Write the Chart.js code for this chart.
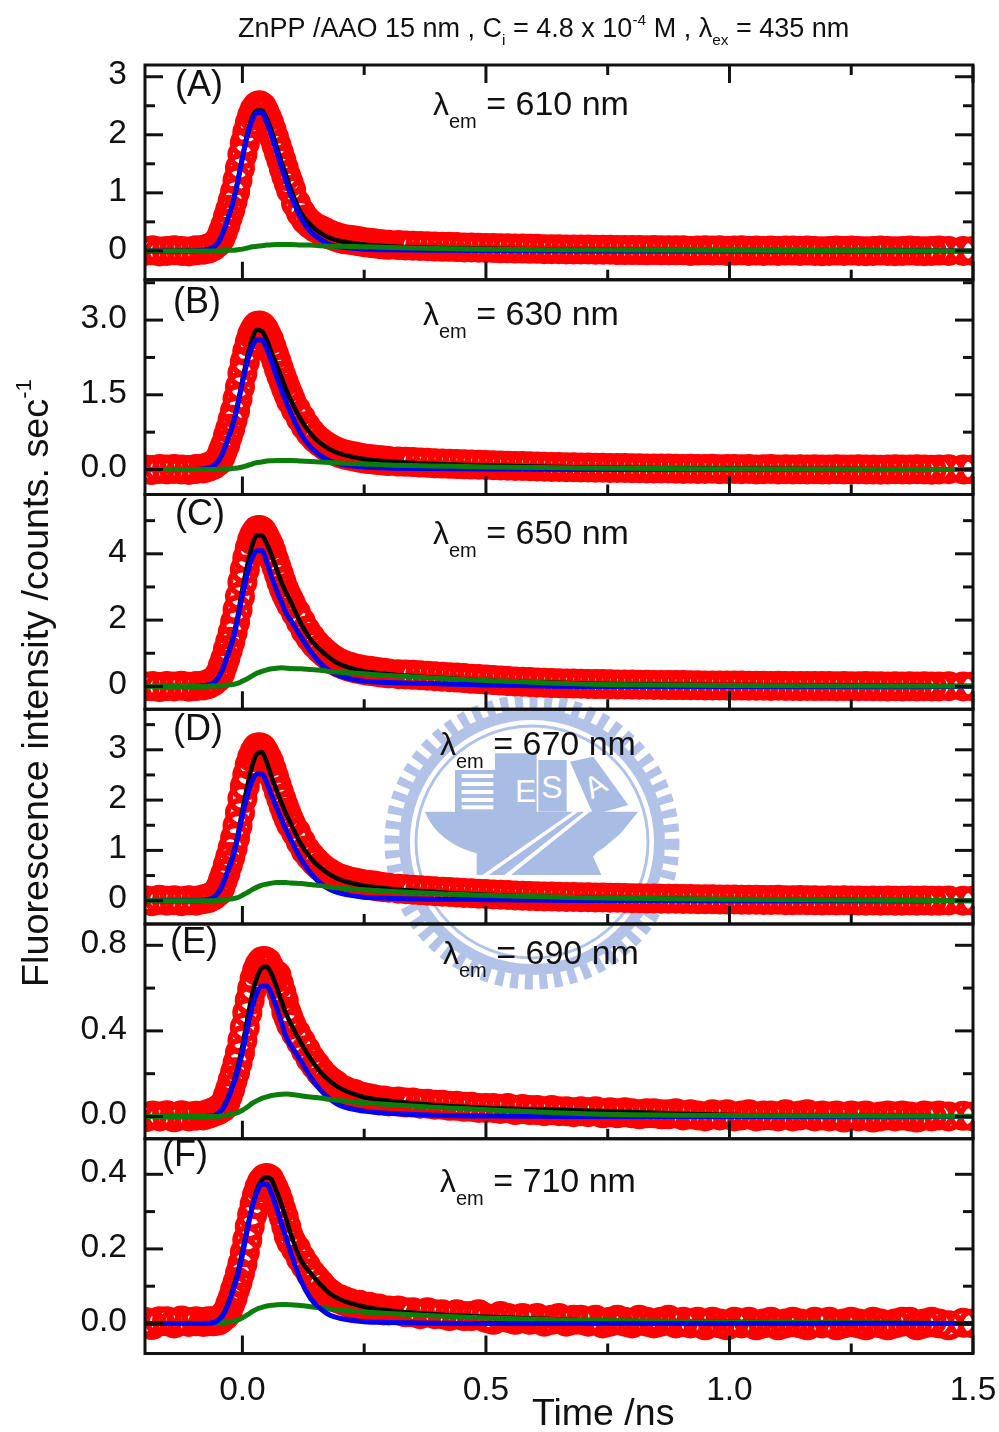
<!DOCTYPE html>
<html>
<head>
<meta charset="utf-8">
<title>ZnPP/AAO fluorescence decay</title>
<script src="https://cdn.jsdelivr.net/npm/chart.js@4"></script>
<style>
  html, body { margin: 0; padding: 0; background: #fff; }
  #seal, #chart { position: absolute; left: 0; top: 0; }
</style>
</head>
<body>
<svg id="seal" width="999" height="1432">
  <g fill="none" stroke="#b2c3e7">
    <circle cx="532" cy="842" r="140" stroke-width="15" stroke-dasharray="8 6.6"/>
    <circle cx="532" cy="842" r="127.5" stroke-width="11"/>
    <circle cx="532" cy="842" r="116" stroke-width="3"/>
  </g>
  <g transform="translate(380 690) scale(0.3333)" fill="#a9bce4">
    <path d="M135 365 L775 365 L722 430 L640 500 L665 555 L290 555 L290 490 C220 470 160 430 135 365 Z"/>
    <rect x="225" y="240" width="125" height="130"/>
    <rect x="345" y="190" width="125" height="180"/>
    <rect x="475" y="210" width="85" height="155"/>
    <path d="M570 215 L640 200 L745 345 L640 375 Z"/>
    <g fill="#fff">
      <rect x="245" y="252" width="95" height="12"/>
      <rect x="245" y="276" width="95" height="12"/>
      <rect x="245" y="300" width="95" height="12"/>
      <rect x="245" y="324" width="95" height="12"/>
      <rect x="245" y="346" width="95" height="12"/>
      <path d="M300 560 L612 342 L636 360 L392 556 L372 556 L612 366 L606 358 L325 556 Z"/>
      <path d="M640 500 C660 470 700 465 720 470 C725 510 715 540 665 555 Z"/>
      <text x="405" y="335" font-family="Liberation Sans" font-size="96">E</text>
      <text x="484" y="325" font-family="Liberation Sans" font-size="96">S</text>
      <text x="615" y="318" font-family="Liberation Sans" font-size="90" transform="rotate(-30 645 285)">A</text>
    </g>
  </g>
</svg>
<canvas id="chart" width="999" height="1432"></canvas>
<script>
// measured times (ns) for the red circles
const pointTime = [
  -0.2, -0.185, -0.17, -0.155, -0.14, -0.125, -0.11, -0.095, -0.08, -0.07, -0.06,
  -0.05, -0.045, -0.04, -0.035, -0.03, -0.025, -0.02, -0.015, -0.01, -0.005,
  0, 0.005, 0.01, 0.015, 0.02, 0.025, 0.03, 0.035, 0.04, 0.045,
  0.05, 0.055, 0.06, 0.065, 0.07, 0.075, 0.08, 0.085, 0.09, 0.095, 0.1,
  0.11, 0.12, 0.13, 0.14, 0.15, 0.16, 0.17, 0.18, 0.19, 0.2,
  0.21, 0.22, 0.23, 0.24, 0.25, 0.26, 0.27, 0.28, 0.29, 0.3,
  0.32, 0.335, 0.35, 0.365, 0.38, 0.395, 0.41, 0.425, 0.44, 0.455, 0.47, 0.485, 0.5,
  0.515, 0.53, 0.545, 0.56, 0.575, 0.59, 0.605, 0.62, 0.635, 0.65, 0.665, 0.68, 0.695,
  0.71, 0.725, 0.74, 0.755, 0.77, 0.785, 0.8, 0.815, 0.83, 0.845, 0.86, 0.875, 0.89,
  0.905, 0.92, 0.935, 0.95, 0.965, 0.98, 0.995, 1.01, 1.025, 1.04, 1.055, 1.07, 1.085,
  1.1, 1.115, 1.13, 1.145, 1.16, 1.175, 1.19, 1.205, 1.22, 1.235, 1.25, 1.265, 1.28,
  1.295, 1.31, 1.325, 1.34, 1.355, 1.37, 1.385, 1.4, 1.415, 1.43, 1.45, 1.48, 1.5
];

const pointsA = [
  0, .01, -.01, 0, .01, 0, -.01, .01, .02, .04, .08,
  .15, .22, .33, .44, .58, .71, .86, 1.02, 1.22, 1.43, 1.66, 1.86, 2.04, 2.2, 2.33, 2.43, 2.49, 2.51, 2.48, 2.4, 2.3, 2.2, 2.08, 1.95, 1.82, 1.69, 1.56, 1.42, 1.29, 1.17, 1.05,
  .82, .66, .54, .46, .4, .36, .32, .28, .25, .22, .2, .19, .18, .165, .15, .14, .13, .12, .11, .105,
  .1, .095, .09, .085, .08, .075, .07, .07, .065, .06, .06, .055, .05,
  .05, .045, .045, .04, .04, .035, .035, .03, .03, .03, .025, .025, .025,
  .025, .02, .02, .02, .015, .015, .015, .015, .01, .015, .01, .01, .01,
  .01, 0, .005, .01, .005, .01, 0, .005, .01, 0, .005, 0, .005,
  0, .005, .005, 0, .005, 0, -.005, 0, .005, 0, .005, 0, -.005,
  0, .005, 0, -.005, 0, .005, 0, -.005, 0, .005, 0, 0, 0
];
const pointsB = [
  0, -.01, .01, 0, .01, 0, -.01, .01, .02, .05, .09,
  .17, .25, .38, .5, .67, .82, 1, 1.18, 1.42, 1.66, 1.93, 2.16, 2.37, 2.56, 2.71, 2.81, 2.88, 2.89, 2.87, 2.8, 2.7, 2.6, 2.46, 2.31, 2.17, 2.02, 1.88, 1.75, 1.62, 1.5, 1.38,
  1.2, 1.03, .87, .74, .63, .55, .48, .42, .37, .33, .3, .28, .26, .24, .22, .21, .2, .19, .18, .17,
  .16, .155, .15, .14, .135, .125, .12, .115, .11, .105, .1, .095, .09,
  .085, .08, .075, .07, .07, .065, .06, .055, .05, .05, .045, .045, .04,
  .04, .035, .035, .03, .03, .03, .025, .025, .02, .02, .02, .02, .015,
  .01, .015, .01, .01, .015, .005, .01, .01, .005, .01, 0, .005, .01,
  0, .005, 0, .005, 0, .005, 0, 0, .005, 0, 0, .005, 0,
  0, -.005, 0, .005, 0, 0, .005, 0, -.005, 0, .005, 0, 0
];
const pointsC = [
  0, .01, -.02, .01, 0, .02, -.01, .01, .03, .07, .15,
  .28, .42, .63, .84, 1.1, 1.35, 1.63, 1.94, 2.31, 2.71, 3.15, 3.53, 3.87, 4.17, 4.42, 4.59, 4.7, 4.72, 4.68, 4.55, 4.4, 4.25, 4.05, 3.82, 3.6, 3.38, 3.16, 2.95, 2.78, 2.63, 2.48,
  2.22, 1.95, 1.68, 1.47, 1.28, 1.13, 1, .88, .78, .7, .64, .59, .55, .52, .49, .47, .45, .43, .41, .39,
  .37, .36, .35, .34, .325, .31, .295, .28, .265, .25, .23, .22, .205,
  .19, .175, .16, .15, .14, .13, .12, .11, .1, .095, .09, .085, .08,
  .075, .07, .07, .065, .06, .06, .055, .05, .05, .045, .045, .04, .04,
  .04, .035, .035, .03, .03, .03, .025, .025, .025, .02, .02, .02, .015,
  .02, .015, .015, .01, .015, .01, .01, .01, .005, .01, .005, .005, .01,
  .005, .005, 0, .005, 0, .005, 0, .005, 0, 0, .005, 0, 0
];
const pointsD = [
  .01, -.01, .02, 0, .01, -.01, .01, 0, .03, .05, .1,
  .18, .27, .41, .54, .71, .87, 1.05, 1.25, 1.49, 1.75, 2.03, 2.28, 2.5, 2.7, 2.85, 2.96, 3.04, 3.05, 3.03, 2.95, 2.85, 2.75, 2.61, 2.46, 2.31, 2.16, 2.02, 1.88, 1.75, 1.63, 1.52,
  1.36, 1.17, 1, .88, .77, .68, .6, .54, .48, .44, .41, .38, .36, .34, .32, .31, .3, .28, .27, .26,
  .24, .23, .22, .21, .2, .19, .18, .175, .165, .155, .15, .14, .135,
  .125, .12, .115, .105, .1, .095, .09, .085, .085, .08, .075, .075, .07,
  .07, .065, .065, .06, .06, .055, .05, .05, .045, .045, .04, .04, .04,
  .035, .035, .03, .03, .03, .025, .025, .025, .02, .02, .02, .015, .015,
  .02, .01, .01, .015, .01, .01, .005, .01, .005, .01, .005, .005, 0,
  .005, 0, .005, 0, 0, .005, 0, .005, 0, 0, .005, 0, 0
];
const pointsE = [
  -.004, .005, 0, .006, -.004, .006, 0, .004, .005, .012, .02,
  .03, .04, .044, .064, .097, .129, .169, .207, .251, .298, .356, .417, .485, .543, .596, .643, .68, .707, .724, .727, .721, .698, .672, .65, .66, .62, .58, .54, .49, .46, .43,
  .39, .35, .31, .27, .24, .21, .185, .165, .15, .13, .12, .11, .105, .095, .09, .085, .08, .075, .075, .07,
  .07, .065, .065, .06, .06, .055, .055, .05, .05, .045, .045, .04, .04,
  .04, .035, .04, .03, .035, .03, .03, .025, .03, .025, .025, .02, .025,
  .02, .025, .015, .02, .015, .02, .015, .01, .015, .015, .01, .01, .015,
  .005, .01, .005, 0, .01, .005, .01, 0, .005, .01, 0, .005, .005,
  0, .01, 0, .005, .01, 0, .005, 0, .005, -.005, .005, 0, .005,
  -.005, 0, .005, 0, .005, 0, -.005, .005, 0, .005, 0, .003, 0
];
const pointsF = [
  .004, -.004, .006, .006, 0, .008, .004, .006, .004, .006, .006,
  .008, .012, .018, .023, .034, .052, .069, .091, .111, .135, .16, .191, .224, .26, .291, .32, .345, .365, .379, .388, .39, .387, .374, .36, .345, .326, .305, .285, .26, .235, .22,
  .2, .175, .155, .135, .12, .105, .09, .08, .07, .065, .06, .055, .05, .05, .045, .045, .04, .04, .035, .035,
  .035, .03, .03, .025, .03, .025, .025, .02, .025, .02, .02, .025, .015,
  .01, .02, .015, .01, .015, .01, .015, .005, .01, .015, .005, .01, .01,
  .005, .01, 0, .005, .01, .005, 0, .01, .005, 0, .005, .01, 0,
  .005, 0, .005, -.005, .005, 0, -.005, .005, 0, .005, -.005, 0, .005,
  -.005, 0, .005, 0, -.005, .005, 0, .005, -.005, 0, .005, 0, -.005,
  .005, 0, -.005, 0, .005, .005, -.005, 0, .005, 0, -.005, .002, 0
];

// times for the three fit curves
const fitTime = [-0.2, -0.1, -0.08, -0.06, -0.05, -0.04, -0.03, -0.02, -0.01, 0, 0.01, 0.02, 0.03, 0.04, 0.05, 0.06, 0.07, 0.08, 0.09, 0.1, 0.12, 0.14, 0.16, 0.18, 0.2, 0.25, 0.3, 0.4, 0.5, 0.7, 1, 1.5];

const blackA = [0, 0, .01, .06, .14, .31, .56, .82, 1.19, 1.62, 2.02, 2.3, 2.42, 2.42, 2.28, 2.06, 1.8, 1.54, 1.29, 1.05, .66, .45, .31, .22, .17, .11, .08, .05, .035, .02, .01, 0];
const blackB = [0, 0, .01, .07, .16, .35, .62, .91, 1.31, 1.8, 2.26, 2.62, 2.8, 2.78, 2.6, 2.34, 2.1, 1.85, 1.6, 1.38, 1, .72, .53, .4, .32, .21, .16, .11, .08, .04, .015, 0];
const blackC = [0, 0, .02, .11, .26, .55, .98, 1.45, 2.1, 2.95, 3.65, 4.25, 4.55, 4.55, 4.3, 3.95, 3.55, 3.15, 2.82, 2.53, 1.9, 1.42, 1.1, .85, .67, .46, .37, .26, .18, .09, .04, .01];
const blackD = [0, 0, .01, .06, .16, .34, .61, .9, 1.29, 1.8, 2.27, 2.68, 2.92, 2.95, 2.75, 2.46, 2.2, 1.95, 1.72, 1.52, 1.13, .85, .66, .52, .42, .3, .24, .17, .12, .06, .025, 0];
const blackE = [0, 0, 0, .002, .015, .04, .087, .15, .228, .33, .454, .57, .65, .695, .7, .665, .607, .54, .478, .43, .345, .27, .208, .165, .133, .09, .074, .052, .04, .028, .007, .001];
const blackF = [0, 0, 0, .002, .009, .024, .052, .092, .136, .195, .258, .315, .36, .385, .392, .385, .355, .32, .28, .237, .17, .135, .105, .08, .065, .045, .035, .024, .018, .009, .004, 0];

const blueA = [0, 0, .01, .06, .14, .31, .55, .81, 1.17, 1.59, 1.98, 2.25, 2.38, 2.38, 2.21, 1.98, 1.71, 1.45, 1.19, .95, .57, .33, .2, .11, .07, .03, .02, .01, .005, 0, 0, 0];
const blueB = [0, 0, .01, .07, .16, .34, .6, .88, 1.27, 1.74, 2.16, 2.46, 2.6, 2.6, 2.42, 2.16, 1.87, 1.6, 1.35, 1.12, .72, .45, .28, .17, .11, .05, .03, .02, .01, 0, 0, 0];
const blueC = [0, 0, .02, .1, .25, .53, .94, 1.39, 2, 2.74, 3.39, 3.87, 4.09, 4.09, 3.75, 3.3, 2.9, 2.55, 2.2, 1.98, 1.5, 1.05, .7, .46, .32, .16, .12, .08, .04, 0, 0, 0];
const blueD = [0, 0, .01, .06, .15, .33, .58, .86, 1.23, 1.69, 2.09, 2.38, 2.52, 2.52, 2.34, 2.09, 1.85, 1.62, 1.4, 1.2, .83, .55, .35, .22, .15, .07, .05, .03, .02, .005, 0, 0];
const blueE = [0, 0, 0, .002, .015, .037, .08, .14, .21, .3, .41, .51, .58, .61, .61, .57, .51, .44, .37, .33, .26, .185, .124, .08, .052, .025, .015, .006, .002, 0, 0, 0];
const blueF = [0, 0, 0, .002, .009, .022, .048, .086, .127, .183, .25, .31, .352, .373, .373, .347, .31, .269, .228, .187, .115, .067, .04, .022, .014, .005, .003, .001, 0, 0, 0, 0];

const greenA = [0, 0, 0, 0, 0, .005, .01, .01, .02, .03, .05, .07, .08, .09, .1, .105, .11, .11, .11, .11, .1, .1, .09, .08, .08, .07, .06, .04, .03, .02, .01, 0];
const greenB = [0, 0, 0, 0, 0, .01, .01, .02, .03, .05, .08, .11, .14, .15, .17, .175, .18, .18, .18, .18, .17, .16, .15, .14, .13, .11, .09, .07, .05, .03, .01, 0];
const greenC = [0, 0, 0, .01, .01, .02, .04, .06, .09, .16, .23, .32, .4, .45, .5, .53, .55, .56, .55, .54, .53, .51, .49, .45, .43, .38, .33, .25, .18, .07, .03, .01];
const greenD = [0, 0, 0, 0, .01, .01, .03, .04, .06, .11, .16, .22, .27, .31, .33, .35, .36, .36, .36, .35, .34, .32, .3, .27, .25, .22, .19, .14, .11, .06, .03, 0];
const greenE = [0, 0, 0, 0, 0, .004, .007, .011, .018, .029, .044, .061, .074, .085, .092, .098, .102, .104, .105, .103, .097, .091, .086, .08, .075, .064, .056, .042, .032, .013, .005, .001];
const greenF = [0, 0, 0, 0, 0, .002, .004, .006, .009, .015, .023, .032, .039, .043, .047, .049, .05, .051, .051, .05, .048, .045, .042, .039, .036, .031, .027, .02, .015, .009, .004, 0];

// axis ticks
const xMajor = [0, 0.5, 1, 1.5];
const xMinor = [0.25, 0.75, 1.25];
const yMajorA = [0, 1, 2, 3], yMinorA = [0.5, 1.5, 2.5];
const yMajorB = [0, 1.5, 3], yMinorB = [0.75, 2.25, 3.75];
const yMajorC = [0, 2, 4], yMinorC = [1, 3, 5];
const yMajorD = [0, 1, 2, 3], yMinorD = [0.5, 1.5, 2.5, 3.5];
const yMajorE = [0, 0.4, 0.8], yMinorE = [0.2, 0.6];
const yMajorF = [0, 0.2, 0.4], yMinorF = [0.1, 0.3];

const panels = [
  { id: 'yA', min: -0.497, max: 3.202, major: yMajorA, minor: yMinorA, dec: 0, points: pointsA, black: blackA, blue: blueA, green: greenA },
  { id: 'yB', min: -0.502, max: 3.81, major: yMajorB, minor: yMinorB, dec: 1, points: pointsB, black: blackB, blue: blueB, green: greenB },
  { id: 'yC', min: -0.689, max: 5.789, major: yMajorC, minor: yMinorC, dec: 0, points: pointsC, black: blackC, blue: blueC, green: greenC },
  { id: 'yD', min: -0.463, max: 3.806, major: yMajorD, minor: yMinorD, dec: 0, points: pointsD, black: blackD, blue: blueD, green: greenD },
  { id: 'yE', min: -0.104, max: 0.8995, major: yMajorE, minor: yMinorE, dec: 1, points: pointsE, black: blackE, blue: blueE, green: greenE },
  { id: 'yF', min: -0.0804, max: 0.4953, major: yMajorF, minor: yMinorF, dec: 1, points: pointsF, black: blackF, blue: blueF, green: greenF, blueOnTop: true }
];

const FONT = '"Liberation Sans", Arial, sans-serif';

function pairUp(times, values) {
  return times.map((x, i) => ({ x, y: values[i] }));
}

const datasets = [];
panels.forEach(p => {
  const line = (values, color, order, width) => ({
    data: pairUp(fitTime, values), yAxisID: p.id, xAxisID: 'x', order,
    borderColor: color, borderWidth: width, pointRadius: 0,
    cubicInterpolationMode: 'monotone', clip: 0
  });
  datasets.push(line(p.green, '#0a7d0a', p.blueOnTop ? 2 : 1, 5));
  datasets.push(line(p.blue, '#0000f0', p.blueOnTop ? 1 : 2, 5));
  datasets.push(line(p.black, '#000000', 3, 4.5));
  datasets.push({
    data: pairUp(pointTime, p.points), yAxisID: p.id, xAxisID: 'x', order: 4,
    showLine: false, pointStyle: 'circle', pointRadius: 12.25, pointBorderWidth: 5.5,
    pointBorderColor: '#ff0000', pointBackgroundColor: 'rgba(0,0,0,0)', clip: 0
  });
});

const scales = {
  x: {
    type: 'linear', position: 'bottom', min: -0.2, max: 1.5,
    grid: { display: false, drawTicks: false }, border: { display: false },
    afterBuildTicks: axis => { axis.ticks = xMajor.map(value => ({ value })); },
    // the 1.5 label would otherwise push the plot in from the right
    afterFit: axis => { axis.height = 78.5; axis.paddingLeft = 0; axis.paddingRight = 0; },
    ticks: {
      autoSkip: false, maxRotation: 0, padding: 17, color: '#111',
      font: { family: FONT, size: 33.5 }, callback: v => v.toFixed(1)
    }
  }
};
// stacked y scales, first one in the list ends up at the bottom so go in reverse
panels.slice().reverse().forEach(p => {
  scales[p.id] = {
    type: 'linear', position: 'left', stack: 'panels', stackWeight: 1,
    min: p.min, max: p.max,
    grid: { display: false, drawTicks: false }, border: { display: false },
    afterBuildTicks: axis => { axis.ticks = p.major.map(value => ({ value })); },
    afterFit: axis => { axis.width = 145; },
    ticks: {
      autoSkip: false, maxRotation: 0, padding: 18, labelOffset: -1.5, color: '#111',
      font: { family: FONT, size: 33.5 }, callback: v => v.toFixed(p.dec)
    }
  };
});

// inward ticks and the box of every panel
const frames = {
  id: 'frames',
  afterDatasetsDraw(chart) {
    const { ctx } = chart;
    const x = chart.scales.x;
    ctx.save();
    ctx.strokeStyle = '#111';
    ctx.lineWidth = 3;
    const seg = (x1, y1, x2, y2) => {
      ctx.beginPath(); ctx.moveTo(x1, y1); ctx.lineTo(x2, y2); ctx.stroke();
    };
    panels.forEach((p, i) => {
      const y = chart.scales[p.id];
      ctx.strokeRect(x.left, y.top, x.right - x.left, y.bottom - y.top);
      const yTick = (v, len) => {
        const py = y.getPixelForValue(v);
        seg(x.left, py, x.left + len, py);
        seg(x.right, py, x.right - len, py);
      };
      p.major.forEach(v => yTick(v, 18));
      p.minor.forEach(v => yTick(v, 10));
      const xTick = (v, len) => {
        const px = x.getPixelForValue(v);
        seg(px, y.bottom, px, y.bottom - len);
        if (i === 0) seg(px, y.top, px, y.top + len);
      };
      xMajor.forEach(v => xTick(v, 18));
      xMinor.forEach(v => xTick(v, 10));
    });
    ctx.restore();
  }
};

// text with sub- and superscripts: each run is [text, size, rise]
function drawRuns(ctx, x, y, runs) {
  runs.forEach(([text, size, rise]) => {
    ctx.font = size + 'px ' + FONT;
    ctx.fillText(text, x, y - (rise || 0));
    x += ctx.measureText(text).width;
  });
}

const panelLabels = [['(A)', 175, 96], ['(B)', 173, 313], ['(C)', 175, 525], ['(D)', 173, 740], ['(E)', 170, 953], ['(F)', 162, 1166]];
const emission = [['610', 433, 115], ['630', 423, 325], ['650', 433, 544], ['670', 440, 755], ['690', 443, 964], ['710', 440, 1192]];

const labels = {
  id: 'labels',
  afterDraw(chart) {
    const { ctx } = chart;
    ctx.save();
    ctx.fillStyle = '#111';
    ctx.textAlign = 'left';
    ctx.textBaseline = 'alphabetic';
    drawRuns(ctx, 238, 37, [['ZnPP /AAO 15 nm , C', 27], ['i', 15.5, -8], [' = 4.8 x 10', 27], ['-4', 15.5, 12], [' M , λ', 27], ['ex', 15.5, -8], [' = 435 nm', 27]]);
    panelLabels.forEach(([t, x, y]) => drawRuns(ctx, x, y, [[t, 36]]));
    emission.forEach(([nm, x, y]) => drawRuns(ctx, x, y, [['λ', 32], ['em', 20, -13], [' = ' + nm + ' nm', 34]]));
    drawRuns(ctx, 532, 1425, [['Time /ns', 37.5]]);
    ctx.translate(48, 987);
    ctx.rotate(-Math.PI / 2);
    drawRuns(ctx, 0, 0, [['Fluorescence intensity /counts. sec', 37.8], ['-1', 22, 17]]);
    ctx.restore();
  }
};

new Chart(document.getElementById('chart'), {
  type: 'line',
  data: { datasets },
  options: {
    responsive: false,
    animation: false,
    events: [],
    layout: { padding: { left: 0, right: 26, top: 65, bottom: 0 } },
    plugins: { legend: { display: false }, tooltip: { enabled: false } },
    scales
  },
  plugins: [frames, labels]
});
</script>
</body>
</html>
